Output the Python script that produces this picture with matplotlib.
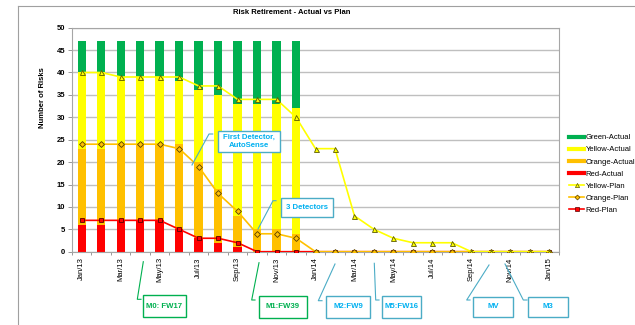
import numpy as np
import matplotlib.pyplot as plt
from matplotlib.lines import Line2D
from matplotlib.patches import Rectangle

plt.rcParams['font.family'] = ['Liberation Sans', 'DejaVu Sans']

# months Jan/13 .. Jan/15
months = ['Jan/13', 'Feb/13', 'Mar/13', 'Apr/13', 'May/13', 'Jun/13', 'Jul/13',
          'Aug/13', 'Sep/13', 'Oct/13', 'Nov/13', 'Dec/13', 'Jan/14', 'Feb/14',
          'Mar/14', 'Apr/14', 'May/14', 'Jun/14', 'Jul/14', 'Aug/14', 'Sep/14',
          'Oct/14', 'Nov/14', 'Dec/14', 'Jan/15']

# actual (stacked bars), Jan/13 .. Dec/13
red_act = [6, 6, 7, 7, 7, 5, 3, 2, 1, 0, 0, 0]
orange_act = [17, 17, 17, 17, 17, 19, 17, 12, 7, 5, 5, 4]
yellow_act = [17, 17, 15, 15, 15, 14, 16, 21, 25, 28, 28, 28]
green_act = [7, 7, 8, 8, 8, 9, 11, 12, 14, 14, 14, 15]

# plan (lines)
yellow_plan = [40, 40, 39, 39, 39, 39, 37, 37, 34, 34, 34, 30, 23, 23, 8, 5, 3,
               2, 2, 2, 0, 0, 0, 0, 0]
orange_plan = [24, 24, 24, 24, 24, 23, 19, 13, 9, 4, 4, 3, 0, 0, 0, 0, 0,
               0, 0, 0, 0, 0, 0, 0, 0]
red_plan = [7, 7, 7, 7, 7, 5, 3, 3, 2, 0, 0, 0, 0, 0, 0, 0, 0,
            0, 0, 0, 0, 0, 0, 0, 0]

callout_texts = ['First Detector,\nAutoSense', '3 Detectors', 'M0: FW17', 'M1:FW39',
                 'M2:FW9', 'M5:FW16', 'MV', 'M3']

GREEN = '#00B050'
YELLOW = '#FFFF00'
ORANGE = '#FFC000'
RED = '#FF0000'
BLUE_TXT = '#00B0F0'
BLUE_BOX = '#4BACC6'

W, H = 635, 325
fig = plt.figure(figsize=(W / 100, H / 100), dpi=100)


def fx(x):
    return x / W


def fy(y):
    return 1 - y / H


ax = fig.add_axes([fx(72), fy(251.7), (559 - 72) / W, (251.7 - 27.7) / H])

x = np.arange(len(months))
xa = np.arange(len(red_act))
red_a = np.array(red_act)
orange_a = np.array(orange_act)
yellow_a = np.array(yellow_act)
green_a = np.array(green_act)

bw = 0.43
ax.bar(xa, red_a, bw, color=RED, zorder=2)
ax.bar(xa, orange_a, bw, bottom=red_a, color=ORANGE, zorder=2)
ax.bar(xa, yellow_a, bw, bottom=red_a + orange_a, color=YELLOW, zorder=2)
ax.bar(xa, green_a, bw, bottom=red_a + orange_a + yellow_a, color=GREEN, zorder=2)

ax.plot(x, red_plan, '-', color=RED, lw=1.2, marker='s', ms=3.2,
        mfc=RED, mec='#5a0000', mew=0.6, zorder=3)
ax.plot(x, orange_plan, '-', color=ORANGE, lw=1.2, marker='D', ms=3.0,
        mfc=ORANGE, mec='#5a4000', mew=0.6, zorder=4)
ax.plot(x, yellow_plan, '-', color=YELLOW, lw=1.2, marker='^', ms=3.6,
        mfc=YELLOW, mec='#5a5a00', mew=0.6, zorder=5)

ax.set_xlim(-0.5, len(months) - 0.5)
ax.set_ylim(0, 50)
ax.set_yticks(range(0, 51, 5))
ax.set_xticks(x)
ax.set_xticklabels([m if i % 2 == 0 else '' for i, m in enumerate(months)],
                   rotation=90, fontsize=5.5)
ax.set_xticks(np.arange(-0.5, len(months), 1), minor=True)
ax.tick_params(axis='x', which='major', length=0, pad=4)
ax.tick_params(axis='x', which='minor', length=2, color='#888888', width=0.6)
ax.tick_params(axis='y', labelsize=5.5, length=3, color='#888888', width=0.6, pad=2)
for lab in ax.get_yticklabels():
    lab.set_fontweight('bold')
ax.yaxis.grid(True, color='#BFBFBF', lw=1.0, zorder=0)
ax.set_axisbelow(True)
for sp in ax.spines.values():
    sp.set_color('#A6A6A6')
    sp.set_linewidth(0.8)

fig.text(fx(43), fy(98), 'Number of Risks', rotation=90, ha='center', va='center',
         fontsize=5.5, fontweight='bold')
fig.text(fx(292), fy(12.7), 'Risk Retirement - Actual vs Plan', ha='center',
         va='center', fontsize=5.5, fontweight='bold')

# chart frame
fig.add_artist(Line2D([fx(18), fx(18)], [fy(6), fy(330)], color='#A0A0A0', lw=0.8))
fig.add_artist(Line2D([fx(18), fx(640)], [fy(6), fy(6)], color='#A0A0A0', lw=0.8))

# legend
handles = [
    Line2D([], [], color=GREEN, lw=3),
    Line2D([], [], color=YELLOW, lw=3),
    Line2D([], [], color=ORANGE, lw=3),
    Line2D([], [], color=RED, lw=3),
    Line2D([], [], color=YELLOW, lw=1.2, marker='^', ms=3, mfc=YELLOW, mec='#5a5a00', mew=0.5),
    Line2D([], [], color=ORANGE, lw=1.2, marker='D', ms=2.5, mfc=ORANGE, mec='#5a4000', mew=0.5),
    Line2D([], [], color=RED, lw=1.2, marker='s', ms=2.5, mfc=RED, mec='#5a0000', mew=0.5),
]
labels = ['Green-Actual', 'Yellow-Actual', 'Orange-Actual', 'Red-Actual',
          'Yellow-Plan', 'Orange-Plan', 'Red-Plan']
fig.legend(handles, labels, loc='upper left', bbox_to_anchor=(fx(569), fy(134)),
           frameon=False, fontsize=5.5, handlelength=2.0, handletextpad=0.2,
           labelspacing=0.62, borderpad=0, borderaxespad=0)

# callouts: box (x0, y0, x1, y1) in px, leader polyline in px
boxes = [
    ((218, 131, 280, 152), [(212.7, 134), (209, 134), (192, 165)], BLUE_TXT, BLUE_BOX),
    ((281, 198, 333, 217), [(276, 200.7), (273, 200.7), (258, 229)], BLUE_TXT, BLUE_BOX),
    ((143, 295, 186, 317), [(143.3, 261.7), (137.3, 299.3), (141, 299.3)], GREEN, GREEN),
    ((259, 296, 307, 318), [(259, 262.7), (251.7, 300), (255, 300)], GREEN, GREEN),
    ((326, 296, 370, 318), [(335, 264), (318.3, 300.7), (322, 300.7)], BLUE_TXT, BLUE_BOX),
    ((382, 296, 421, 318), [(374.3, 263.3), (375.7, 300), (379, 300)], BLUE_TXT, BLUE_BOX),
    ((473, 296.5, 512.5, 317), [(489, 265), (466.7, 300), (470, 300)], BLUE_TXT, BLUE_BOX),
    ((528, 296.5, 568, 317), [(505, 264), (523.3, 300), (527, 300)], BLUE_TXT, BLUE_BOX),
]
for txt, (box, leader, tc, bc) in zip(callout_texts, boxes):
    x0, y0, x1, y1 = box
    fig.add_artist(Rectangle((fx(x0), fy(y1)), (x1 - x0) / W, (y1 - y0) / H,
                             facecolor='white', edgecolor=bc, lw=1.0, zorder=10))
    fig.text(fx((x0 + x1) / 2), fy((y0 + y1) / 2), txt, ha='center', va='center',
             fontsize=5.6, fontweight='bold', color=tc, zorder=11, linespacing=1.3)
    fig.add_artist(Line2D([fx(p[0]) for p in leader], [fy(p[1]) for p in leader],
                          color=bc, lw=0.8, zorder=10))

fig.savefig('out.png', dpi=100)
